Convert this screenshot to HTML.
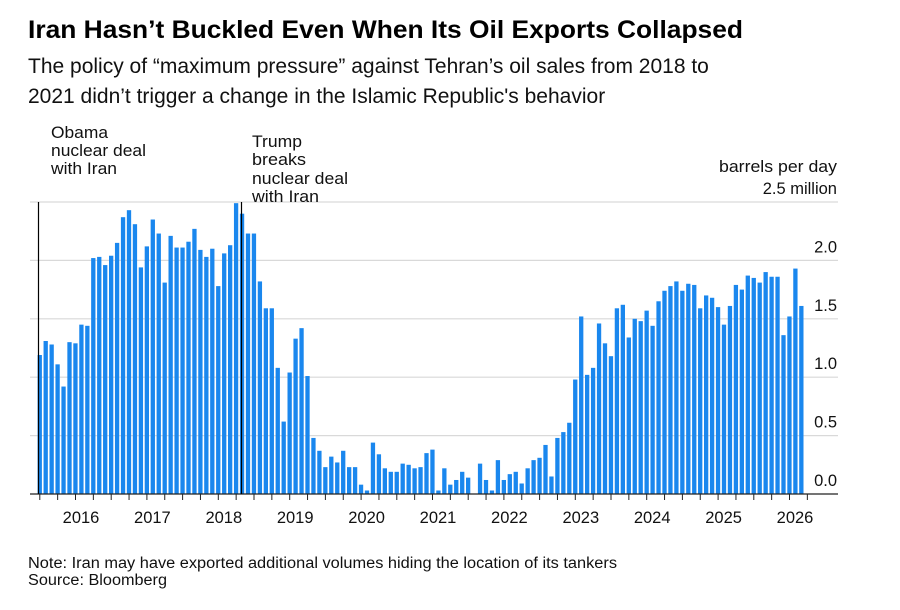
<!DOCTYPE html>
<html><head><meta charset="utf-8"><style>
body{margin:0;background:#fff;font-family:"Liberation Sans",sans-serif;}
svg{display:block}
</style></head><body>
<svg width="900" height="610" viewBox="0 0 900 610" id="chart">
<text x="28" y="38" font-size="25" font-weight="bold" fill="#000" textLength="715" lengthAdjust="spacingAndGlyphs">Iran Hasn’t Buckled Even When Its Oil Exports Collapsed</text>
<text x="28" y="73" font-size="21" fill="#111">The policy of “maximum pressure” against Tehran’s oil sales from 2018 to</text>
<text x="28" y="103" font-size="21" fill="#111">2021 didn’t trigger a change in the Islamic Republic's behavior</text>
<g id="grid"></g>
<g id="bars"></g>
<g id="axis"></g>
<g font-size="16.5" fill="#111">
<line x1="38.5" y1="202" x2="38.5" y2="494" stroke="#000" stroke-width="1.2"/>
<text x="51" y="138" textLength="57" lengthAdjust="spacingAndGlyphs">Obama</text><text x="51" y="156" textLength="95" lengthAdjust="spacingAndGlyphs">nuclear deal</text><text x="51" y="174" textLength="66" lengthAdjust="spacingAndGlyphs">with Iran</text>
</g>
<g font-size="16.5" fill="#111">
<line x1="241.5" y1="202" x2="241.5" y2="494" stroke="#000" stroke-width="1.2"/>
<text x="252" y="147" textLength="50" lengthAdjust="spacingAndGlyphs">Trump</text><text x="252" y="165" textLength="54" lengthAdjust="spacingAndGlyphs">breaks</text><text x="252" y="184" textLength="96" lengthAdjust="spacingAndGlyphs">nuclear deal</text><text x="252" y="202" textLength="67" lengthAdjust="spacingAndGlyphs">with Iran</text>
</g>
<text x="837" y="172" font-size="16.5" text-anchor="end" fill="#111" textLength="118" lengthAdjust="spacingAndGlyphs">barrels per day</text>
<text x="28" y="568" font-size="15.5" fill="#111" textLength="589" lengthAdjust="spacingAndGlyphs">Note: Iran may have exported additional volumes hiding the location of its tankers</text>
<text x="28" y="585" font-size="15.5" fill="#111" textLength="139" lengthAdjust="spacingAndGlyphs">Source: Bloomberg</text>
</svg>
<script>
const startYear = 2015, startMonth = 6; // Jul 2015
const values = [
1.19,1.31,1.28,1.11,0.92,1.30,
1.29,1.45,1.44,2.02,2.03,1.96,2.04,2.15,2.37,2.43,2.31,1.94,
2.12,2.35,2.23,1.81,2.21,2.11,2.11,2.16,2.27,2.09,2.03,2.10,
1.78,2.06,2.13,2.49,2.40,2.23,2.23,1.82,1.59,1.59,1.08,0.62,
1.04,1.33,1.42,1.01,0.48,0.37,0.23,0.32,0.27,0.37,0.23,0.23,
0.08,0.03,0.44,0.34,0.22,0.19,0.19,0.26,0.25,0.22,0.23,0.35,
0.38,0.03,0.22,0.08,0.12,0.19,0.14,0.0,0.26,0.12,0.03,0.29,
0.12,0.17,0.19,0.09,0.22,0.29,0.31,0.42,0.15,0.48,0.53,0.61,
0.98,1.52,1.02,1.08,1.46,1.29,1.18,1.59,1.62,1.34,1.50,1.48,
1.57,1.44,1.65,1.74,1.78,1.82,1.74,1.80,1.79,1.59,1.70,1.68,
1.60,1.45,1.61,1.79,1.75,1.87,1.85,1.81,1.90,1.86,1.86,1.36,
1.52,1.93,1.61];
const yTicks = [0,0.5,1.0,1.5,2.0,2.5];
const yTickLabels = ["0.0","0.5","1.0","1.5","2.0","2.5 million"];
const xYears = [2016,2017,2018,2019,2020,2021,2022,2023,2024,2025,2026];

const NS="http://www.w3.org/2000/svg";
const Y0=494, YTOP=202, VMAX=2.5, MW=5.95, JAN16=75;
function y(v){return Y0-(v/VMAX)*(Y0-YTOP);}
function xm(i){return JAN16+(i-(12*(2016-startYear)-startMonth))*MW;}
function el(t,a,p){const e=document.createElementNS(NS,t);for(const k in a)e.setAttribute(k,a[k]);p.appendChild(e);return e;}
const grid=document.getElementById('grid'),bars=document.getElementById('bars'),axis=document.getElementById('axis');
yTicks.forEach((v,k)=>{
  if(v>0){const l=el('line',{x1:30,x2:838,y1:y(v),y2:y(v),stroke:'#d9d9d9','stroke-width':1.2},grid);
  
  }
  const t=el('text',{x:837,y:y(v)-8,'font-size':16.5,'text-anchor':'end',fill:'#111'},axis);
  t.textContent=yTickLabels[k];
  
  
});
values.forEach((v,i)=>{
  const r=el('rect',{x:xm(i)-1.7,y:y(v),width:4.3,height:Y0-y(v),fill:'#1a87ee'},bars);
  
  
});
const base=el('line',{x1:30,x2:838,y1:Y0,y2:Y0,stroke:'#222','stroke-width':1.2},axis);


for(let i=0;i<values.length+1;i++){
  const m=(startMonth+i)%12;
  if(m%3!==0)continue;
  const tk=el('line',{x1:xm(i)+0.5,x2:xm(i)+0.5,y1:Y0,y2:Y0+6,stroke:'#222','stroke-width':1},axis);
  
  
}
xYears.forEach(yr=>{
  const i=(yr-startYear)*12-startMonth;
  const t=el('text',{x:xm(i)+6,y:523,'font-size':16.5,'text-anchor':'middle',fill:'#111'},axis);
  t.textContent=yr;
  
  
});
</script>
</body></html>
